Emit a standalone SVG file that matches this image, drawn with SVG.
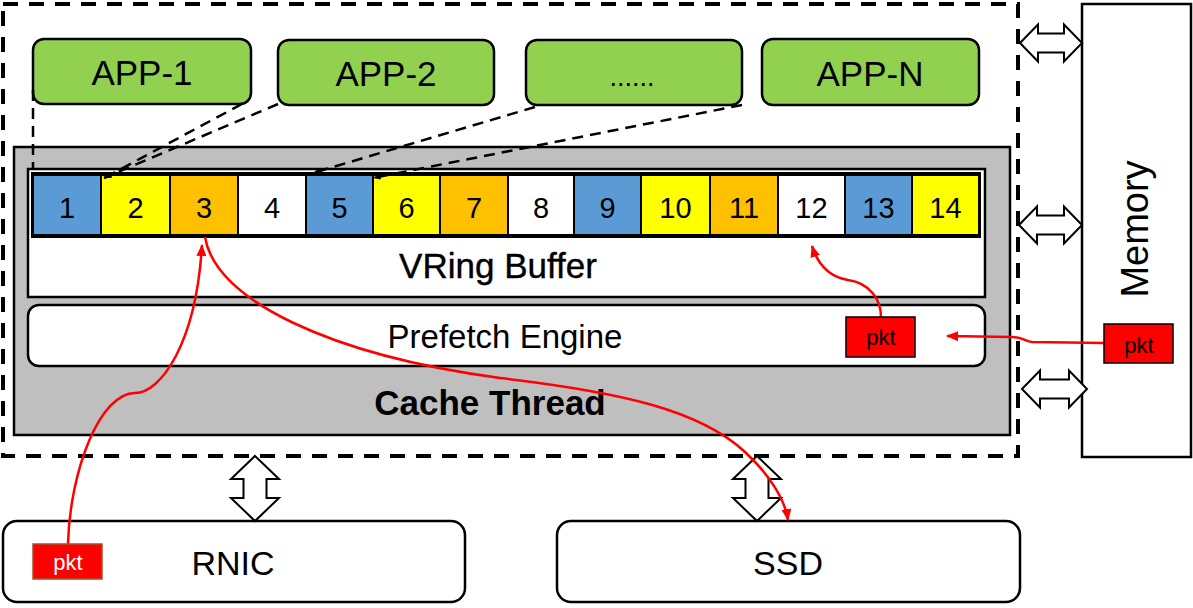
<svg xmlns="http://www.w3.org/2000/svg" width="1193" height="608" viewBox="0 0 1193 608">
<style>
text{font-family:"Liberation Sans",Arial,sans-serif;fill:#000;text-anchor:middle}
.app rect{fill:#92D050;stroke:#000;stroke-width:2.5}
.app text{font-size:35px}
.cell{stroke:#000;stroke-width:2}
.num{font-size:29px}
.dbl{fill:#fff;stroke:#000;stroke-width:2;stroke-linejoin:miter}
.dash{fill:none;stroke:#000;stroke-width:2.5;stroke-dasharray:11 7}
.red{fill:none;stroke:#f00;stroke-width:2.5}
.pkt{fill:#f00;stroke:#000;stroke-width:1.5}
.b{fill:#fff;stroke:#000;stroke-width:2.5}
</style>
<defs>
<marker id="ah" viewBox="0 0 12 10" refX="11" refY="5" markerWidth="12" markerHeight="10" markerUnits="userSpaceOnUse" orient="auto">
<path d="M0,0 L12,5 L0,10 z" fill="#f00"/>
</marker>
<marker id="ahb" viewBox="0 0 8 6" refX="7.5" refY="3" markerWidth="8" markerHeight="6" markerUnits="userSpaceOnUse" orient="auto">
<path d="M0,0 L8,3 L0,6 z" fill="#000"/>
</marker>
</defs>

<g id="host">
<rect x="3" y="4" width="1015" height="452" fill="none" stroke="#000" stroke-width="4" stroke-dasharray="15 11"/>
</g>

<g id="app1" class="app"><rect x="33" y="39" width="218" height="65" rx="11"/><text x="142" y="85">APP-1</text></g>
<g id="app2" class="app"><rect x="278" y="40" width="216" height="65" rx="11"/><text x="386" y="86">APP-2</text></g>
<g id="appdots" class="app"><rect x="526" y="40" width="216" height="65" rx="11"/><text x="632" y="86" style="font-size:27px">......</text></g>
<g id="appN" class="app"><rect x="762" y="39" width="217" height="66" rx="11"/><text x="870" y="86">APP-N</text></g>

<g id="cache-thread">
<rect x="14" y="147" width="996" height="288" fill="#BFBFBF" stroke="#000" stroke-width="2.5"/>
<text x="490" y="415" style="font-size:35px;font-weight:bold">Cache Thread</text>
</g>

<g id="vring">
<rect x="28" y="169" width="957" height="128" fill="#fff" stroke="#000" stroke-width="2.5"/>
<text x="498" y="278" style="font-size:35px;stroke:#000;stroke-width:0.4">VRing Buffer</text>
<rect x="33" y="174" width="946" height="62" fill="none" stroke="#000" stroke-width="4"/>
<rect class="cell" x="33" y="175" width="68" height="60" fill="#5B9BD5"/>
<rect class="cell" x="101" y="175" width="69" height="60" fill="#FFFF00"/>
<rect class="cell" x="170" y="175" width="68" height="60" fill="#FFC000"/>
<rect class="cell" x="238" y="175" width="68" height="60" fill="#fff"/>
<rect class="cell" x="306" y="175" width="67" height="60" fill="#5B9BD5"/>
<rect class="cell" x="373" y="175" width="67" height="60" fill="#FFFF00"/>
<rect class="cell" x="440" y="175" width="68" height="60" fill="#FFC000"/>
<rect class="cell" x="508" y="175" width="66" height="60" fill="#fff"/>
<rect class="cell" x="574" y="175" width="67" height="60" fill="#5B9BD5"/>
<rect class="cell" x="641" y="175" width="69" height="60" fill="#FFFF00"/>
<rect class="cell" x="710" y="175" width="68" height="60" fill="#FFC000"/>
<rect class="cell" x="778" y="175" width="67" height="60" fill="#fff"/>
<rect class="cell" x="845" y="175" width="67" height="60" fill="#5B9BD5"/>
<rect class="cell" x="912" y="175" width="67" height="60" fill="#FFFF00"/>
<text class="num" x="67" y="218">1</text>
<text class="num" x="135.5" y="218">2</text>
<text class="num" x="204" y="218">3</text>
<text class="num" x="272" y="218">4</text>
<text class="num" x="339.5" y="218">5</text>
<text class="num" x="406.5" y="218">6</text>
<text class="num" x="474" y="218">7</text>
<text class="num" x="541" y="218">8</text>
<text class="num" x="607.5" y="218">9</text>
<text class="num" x="675.5" y="218">10</text>
<text class="num" x="744" y="218">11</text>
<text class="num" x="811.5" y="218">12</text>
<text class="num" x="878.5" y="218">13</text>
<text class="num" x="945.5" y="218">14</text>
</g>

<g id="prefetch">
<rect x="28" y="305" width="957" height="61" rx="11" fill="#fff" stroke="#000" stroke-width="2.5"/>
<text x="505" y="348" style="font-size:33px">Prefetch Engine</text>
</g>

<g id="memory">
<rect x="1082" y="4" width="109" height="453" class="b"/>
<text x="0" y="0" transform="translate(1148,229) rotate(-90)" style="font-size:38px">Memory</text>
</g>

<g id="rnic">
<rect x="3" y="521" width="462" height="81" rx="14" class="b"/>
<text x="233" y="575" style="font-size:34px">RNIC</text>
</g>

<g id="ssd">
<rect x="557" y="521" width="463" height="81" rx="14" class="b"/>
<text x="788" y="575" style="font-size:34px">SSD</text>
</g>

<g id="connectors">
<path class="dash" d="M33,90 L33,170"/>
<path class="dash" marker-end="url(#ahb)" d="M242,104 L104,178"/>
<path class="dash" marker-end="url(#ahb)" d="M278,104 L104,178"/>
<path class="dash" marker-end="url(#ahb)" d="M535,107 L313,173"/>
<path class="dash" marker-end="url(#ahb)" d="M742,105 L373,178"/>
<polygon class="dbl" points="1020,43 1038,24.5 1038,33.5 1064,33.5 1064,24.5 1082,43 1064,61.5 1064,52.5 1038,52.5 1038,61.5"/>
<polygon class="dbl" points="1019,225 1037,206.5 1037,215.5 1064,215.5 1064,206.5 1082,225 1064,243.5 1064,234.5 1037,234.5 1037,243.5"/>
<polygon class="dbl" points="1022,389 1040,370.5 1040,379.5 1069,379.5 1069,370.5 1087,389 1069,407.5 1069,398.5 1040,398.5 1040,407.5"/>
<polygon class="dbl" points="255,456 279,479 266.5,479 266.5,498 279,498 255,521 231,498 243.5,498 243.5,479 231,479"/>
<polygon class="dbl" points="757,456 781,479 768.5,479 768.5,498 781,498 757,521 733,498 745.5,498 745.5,479 733,479"/>
<path class="red" marker-end="url(#ah)" d="M68,544 C70,470 100,393 135,393 C160,393 196,345 202,245"/>
<path class="red" marker-end="url(#ah)" d="M205,237 C215,300 330,355 500,378 C620,392 700,410 745,452 C770,475 785,500 788,520"/>
<path class="red" marker-end="url(#ah)" d="M881,317 C881,300 870,283 848,280 C830,277 818,265 812,246"/>
<path class="red" marker-end="url(#ah)" d="M1104,343 L1032,342 C1025,341 1022,337 1012,337 L947,336"/>
</g>

<g id="pkt-prefetch"><rect class="pkt" x="846" y="317" width="69" height="40"/><text x="881" y="345" style="font-size:22px">pkt</text></g>
<g id="pkt-memory"><rect class="pkt" x="1104" y="324" width="69" height="39"/><text x="1139" y="353" style="font-size:22px">pkt</text></g>
<g id="pkt-rnic"><rect x="33" y="544" width="69" height="35" fill="#f00" stroke="#A0522D" stroke-width="1.5"/><text x="68" y="570" style="font-size:22px;fill:#fff">pkt</text></g>
</svg>
